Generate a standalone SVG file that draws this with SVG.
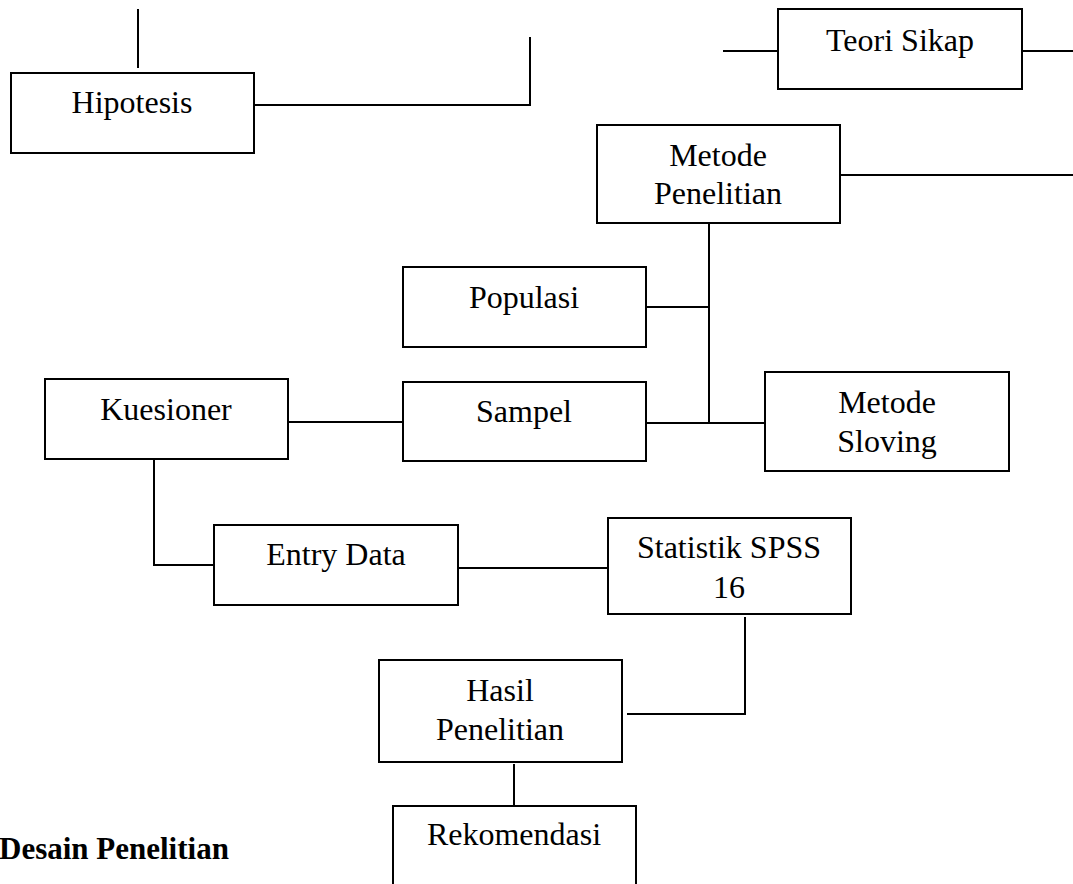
<svg xmlns="http://www.w3.org/2000/svg" width="1073" height="884" viewBox="0 0 1073 884">
<style>
rect{fill:#fff;stroke:#000;stroke-width:2}
.c line,.c polyline{stroke:#000;stroke-width:2;fill:none}
text{font-family:"Liberation Serif","Times New Roman",serif;font-size:32px;fill:#000;text-anchor:middle}
.t{font-weight:bold;text-anchor:start;font-size:31px}
</style>
<rect x="0" y="0" width="1073" height="884" style="stroke:none"/>
<g class="c" id="connectors">
<line x1="138" y1="9" x2="138" y2="68"/>
<polyline points="254,105 530,105 530,37"/>
<line x1="723" y1="51" x2="778" y2="51"/>
<line x1="1022" y1="51" x2="1073" y2="51"/>
<line x1="840" y1="175" x2="1073" y2="175"/>
<line x1="709" y1="223" x2="709" y2="423"/>
<line x1="646" y1="307" x2="709" y2="307"/>
<line x1="646" y1="423" x2="765" y2="423"/>
<line x1="288" y1="422" x2="403" y2="422"/>
<polyline points="154,459 154,565 214,565"/>
<line x1="458" y1="568" x2="608" y2="568"/>
<polyline points="745,617 745,714 627,714"/>
<line x1="514" y1="764" x2="514" y2="806"/>
</g>
<g id="hipotesis"><rect x="11" y="73" width="243" height="80"/><text x="132" y="113">Hipotesis</text></g>
<g id="teori-sikap"><rect x="778" y="9" width="244" height="80"/><text x="900" y="51">Teori Sikap</text></g>
<g id="metode-penelitian"><rect x="597" y="125" width="243" height="98"/><text x="718" y="166">Metode</text><text x="718" y="204">Penelitian</text></g>
<g id="populasi"><rect x="403" y="267" width="243" height="80"/><text x="524" y="308">Populasi</text></g>
<g id="kuesioner"><rect x="45" y="379" width="243" height="80"/><text x="166" y="420">Kuesioner</text></g>
<g id="sampel"><rect x="403" y="382" width="243" height="79"/><text x="524" y="422">Sampel</text></g>
<g id="metode-sloving"><rect x="765" y="372" width="244" height="99"/><text x="887" y="413">Metode</text><text x="887" y="452">Sloving</text></g>
<g id="entry-data"><rect x="214" y="525" width="244" height="80"/><text x="336" y="565">Entry Data</text></g>
<g id="statistik-spss"><rect x="608" y="518" width="243" height="96"/><text x="729" y="558">Statistik SPSS</text><text x="729" y="598">16</text></g>
<g id="hasil-penelitian"><rect x="379" y="660" width="243" height="102"/><text x="500" y="701">Hasil</text><text x="500" y="740">Penelitian</text></g>
<g id="rekomendasi"><rect x="393" y="806" width="243" height="100"/><text x="514" y="845">Rekomendasi</text></g>
<text class="t" x="-1" y="859">Desain Penelitian</text>
</svg>
